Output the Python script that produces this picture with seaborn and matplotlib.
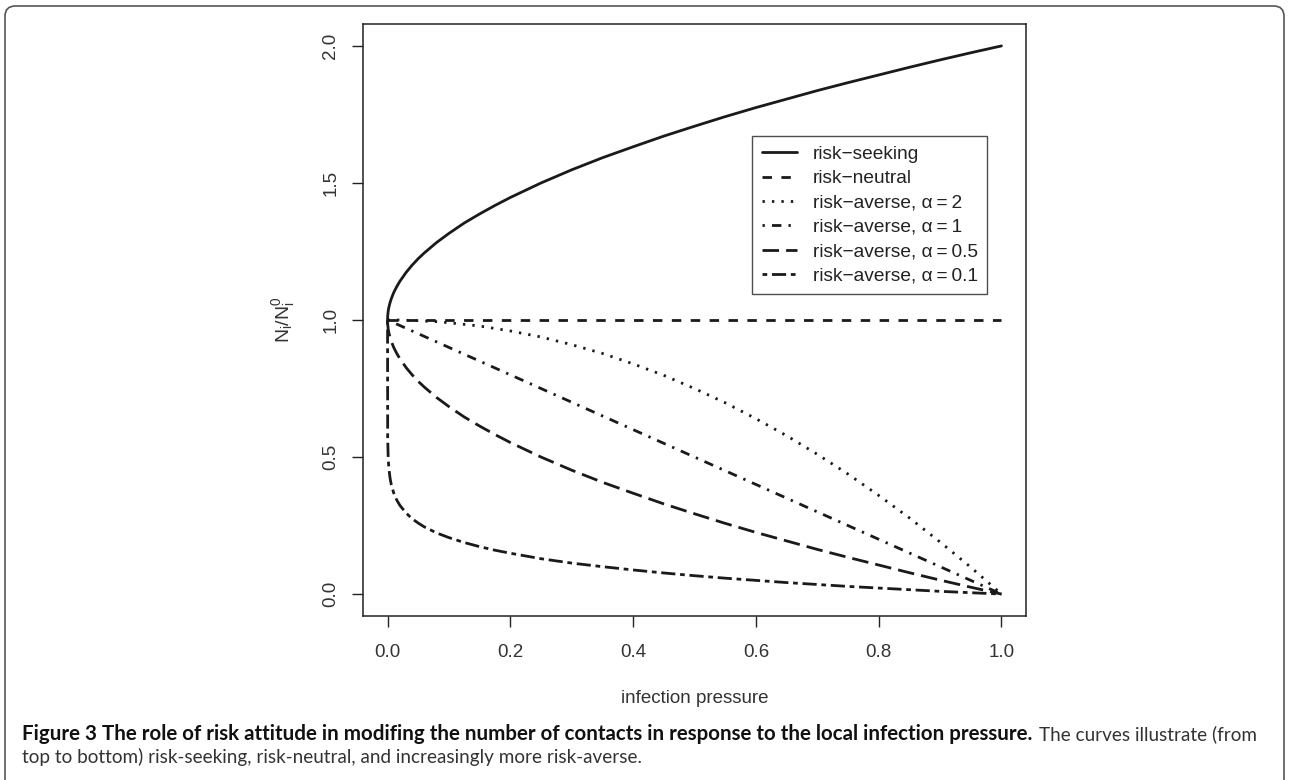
import numpy as np
import pandas as pd
import seaborn as sns
import matplotlib.pyplot as plt
from matplotlib.patches import FancyBboxPatch

# values
pressure = [0, 0.0002, 0.001, 0.002, 0.004, 0.006, 0.01, 0.015, 0.02, 0.03, 0.04, 0.05, 0.06,
            0.08, 0.1, 0.125, 0.15, 0.175, 0.2, 0.25, 0.3, 0.35, 0.4, 0.45, 0.5, 0.55, 0.6,
            0.65, 0.7, 0.75, 0.8, 0.85, 0.9, 0.95, 1.0]
seeking = [1.000, 1.014, 1.032, 1.045, 1.063, 1.077, 1.100, 1.122, 1.141, 1.173, 1.200, 1.224,
           1.245, 1.283, 1.316, 1.354, 1.387, 1.418, 1.447, 1.500, 1.548, 1.592, 1.632, 1.671,
           1.707, 1.742, 1.775, 1.806, 1.837, 1.866, 1.894, 1.922, 1.949, 1.975, 2.000]
neutral = [1.0] * len(pressure)
averse_2 = [1.000, 1.000, 1.000, 1.000, 1.000, 1.000, 1.000, 1.000, 1.000, 0.999, 0.998, 0.998,
            0.996, 0.994, 0.990, 0.984, 0.978, 0.969, 0.960, 0.938, 0.910, 0.878, 0.840, 0.798,
            0.750, 0.698, 0.640, 0.578, 0.510, 0.438, 0.360, 0.278, 0.190, 0.098, 0.000]
averse_1 = [1.000, 1.000, 0.999, 0.998, 0.996, 0.994, 0.990, 0.985, 0.980, 0.970, 0.960, 0.950,
            0.940, 0.920, 0.900, 0.875, 0.850, 0.825, 0.800, 0.750, 0.700, 0.650, 0.600, 0.550,
            0.500, 0.450, 0.400, 0.350, 0.300, 0.250, 0.200, 0.150, 0.100, 0.050, 0.000]
averse_05 = [1.000, 0.986, 0.968, 0.955, 0.937, 0.923, 0.900, 0.878, 0.859, 0.827, 0.800, 0.776,
             0.755, 0.717, 0.684, 0.646, 0.613, 0.582, 0.553, 0.500, 0.452, 0.408, 0.368, 0.329,
             0.293, 0.258, 0.225, 0.194, 0.163, 0.134, 0.106, 0.078, 0.051, 0.025, 0.000]
averse_01 = [1.000, 0.573, 0.499, 0.463, 0.424, 0.400, 0.369, 0.343, 0.324, 0.296, 0.275, 0.259,
             0.245, 0.223, 0.206, 0.188, 0.173, 0.160, 0.149, 0.129, 0.113, 0.100, 0.088, 0.077,
             0.067, 0.058, 0.050, 0.042, 0.035, 0.028, 0.022, 0.016, 0.010, 0.005, 0.000]

labels = ["risk\u2212seeking", "risk\u2212neutral", "risk\u2212averse, \u03b1\u2009=\u20092",
          "risk\u2212averse, \u03b1\u2009=\u20091", "risk\u2212averse, \u03b1\u2009=\u20090.5",
          "risk\u2212averse, \u03b1\u2009=\u20090.1"]
xticks = [0.0, 0.2, 0.4, 0.6, 0.8, 1.0]
yticks = [0.0, 0.5, 1.0, 1.5, 2.0]

sns.set_theme(style="ticks")
plt.rcParams['font.family'] = ['Liberation Sans', 'DejaVu Sans']
plt.rcParams['mathtext.fontset'] = 'custom'
plt.rcParams['mathtext.rm'] = 'Liberation Sans'
plt.rcParams['mathtext.it'] = 'Liberation Sans'

dat = pd.DataFrame({
    "pressure": pressure * 6,
    "ratio": seeking + neutral + averse_2 + averse_1 + averse_05 + averse_01,
    "curve": [l for l in labels for _ in pressure],
})

# R line types (lty 1..6), in units of line width
k = 0.85
dash_map = {
    labels[0]: "",
    labels[1]: (4 * k, 4 * k),
    labels[2]: (1 * k, 3 * k),
    labels[3]: (1 * k, 3 * k, 4 * k, 3 * k),
    labels[4]: (7 * k, 3 * k),
    labels[5]: (2 * k, 2 * k, 6 * k, 2 * k),
}

W, H = 1289, 780
fig = plt.figure(figsize=(W / 100, H / 100), dpi=100)
ax = fig.add_axes([363 / W, 1 - 616 / H, 663 / W, 592 / H])

sns.lineplot(data=dat, x="pressure", y="ratio", style="curve", style_order=labels,
             dashes=dash_map, color="#1a1a1a", linewidth=2.0, sort=False,
             estimator=None, legend=False, ax=ax)

ax.set_xlim(-0.04, 1.04)
ax.set_ylim(-0.08, 2.08)
ax.set_xticks(xticks)
ax.set_xticklabels([f"{t:.1f}" for t in xticks])
ax.set_yticks(yticks)
ax.set_yticklabels([f"{t:.1f}" for t in yticks], rotation=90, va="center")
ax.tick_params(length=8, width=1, color="#222222", labelsize=13.5, labelcolor="#333333")
ax.tick_params(axis="x", pad=12)
ax.tick_params(axis="y", pad=9)
for s in ax.spines.values():
    s.set_visible(True)
    s.set_color("#222222")
    s.set_linewidth(1.1)

ax.set_xlabel("infection pressure", fontsize=13.5, color="#333333")
ax.xaxis.set_label_coords(0.5, -0.125)
ax.set_ylabel(r"$\mathregular{N_i/N_i^0}$", fontsize=14, color="#333333")
ax.yaxis.set_label_coords(-0.1, 0.5)

leg = ax.legend(handles=ax.lines[:6], labels=labels, loc="upper left",
                bbox_to_anchor=((752 - 363) / 663, (616 - 136) / 592),
                frameon=True, fancybox=False, fontsize=13.8, handlelength=1.85,
                handletextpad=0.82, labelspacing=0.36, borderpad=0.5, borderaxespad=0)
leg.get_frame().set_edgecolor("#222222")
leg.get_frame().set_linewidth(1.0)
for t in leg.get_texts():
    t.set_color("#222222")

# rounded border around the figure panel
border = FancyBboxPatch((5 / W, -0.1), (1284 - 5) / W, (H - 6) / H + 0.1,
                        boxstyle="round,pad=0,rounding_size=0.008",
                        mutation_aspect=W / H, transform=fig.transFigure,
                        facecolor="none", edgecolor="#555555", linewidth=1.2)
fig.patches.append(border)

cap_font = ['Lato', 'DejaVu Sans']
bold = fig.text(22 / W, 1 - 740 / H,
                "Figure 3 The role of risk attitude in modifing the number of contacts in response to the local infection pressure.",
                fontsize=14.8, fontweight="bold", family=cap_font, color="#111111", va="baseline")
fig.canvas.draw()
x_end = bold.get_window_extent().x1
fig.text((x_end + 7) / W, 1 - 740 / H, "The curves illustrate (from",
         fontsize=13.6, family=cap_font, color="#333333", va="baseline")
fig.text(22 / W, 1 - 763 / H,
         "top to bottom) risk-seeking, risk-neutral, and increasingly more risk-averse.",
         fontsize=13.6, family=cap_font, color="#333333", va="baseline")

fig.savefig("out.png", dpi=100, facecolor="white")
